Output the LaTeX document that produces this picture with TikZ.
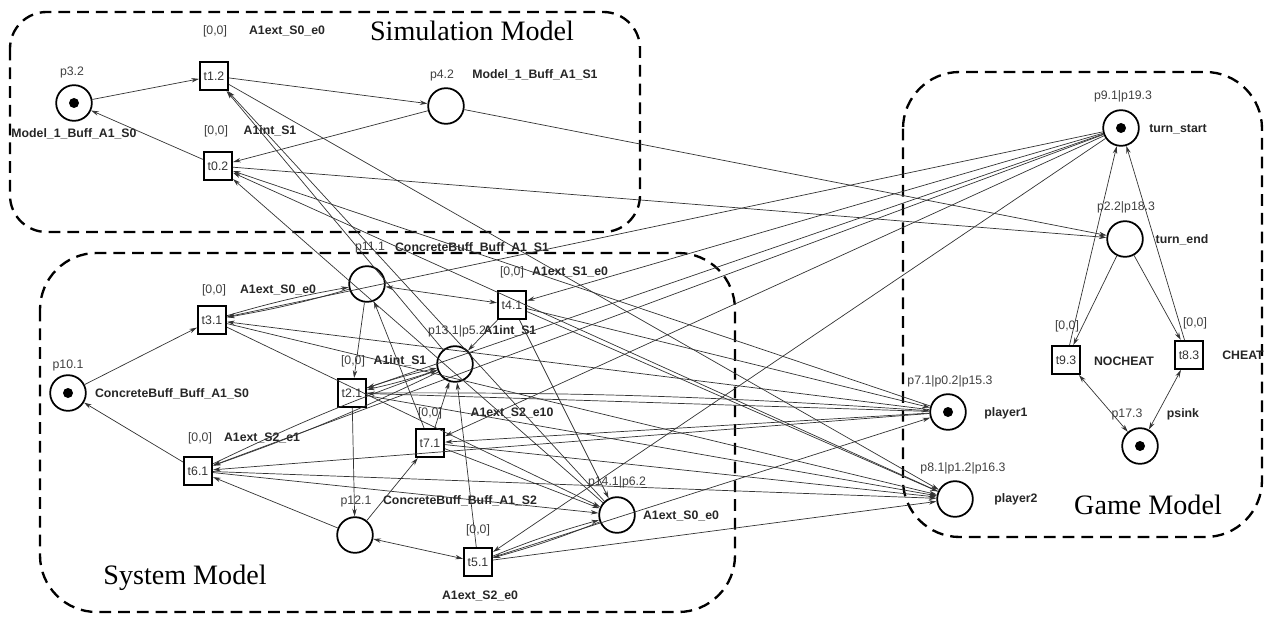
\documentclass[tikz,border=0pt]{standalone}
\usepackage{fontspec}
\setmainfont{Liberation Serif}
\setsansfont{Liberation Sans}
\usetikzlibrary{arrows.meta}

\begin{document}
\begin{tikzpicture}[x=0.03cm,y=-0.03cm,>={Stealth[length=6.5pt,width=3.8pt]},
  pl/.style={circle,draw,line width=1.5pt,minimum size=1.07cm,inner sep=0pt},
  tr/.style={rectangle,draw,fill=white,line width=1.5pt,minimum size=0.85cm,inner sep=0pt,font=\sffamily\fontsize{10.5}{12}\selectfont,text=black!80},
  tok/.style={circle,fill,inner sep=0pt,minimum size=0.3cm},
  lb/.style={font=\sffamily\fontsize{10.5}{12}\selectfont,text=black!75,inner sep=0pt},
  nm/.style={font=\sffamily\bfseries\fontsize{10.5}{12}\selectfont,text=black!85,inner sep=0pt},
  md/.style={font=\fontsize{24}{28}\selectfont,inner sep=0pt},
  box/.style={draw,line width=2pt,dash pattern=on 10pt off 6pt},
  arc/.style={->,black!80,line width=0.6pt},
  rd/.style={<->,black!80,line width=0.6pt}]
  \useasboundingbox (0,0) rectangle (1271,622);
  \draw[box,rounded corners=1.1cm] (10,12) rectangle (640,232);
  \draw[box,rounded corners=1.7cm] (40,253) rectangle (735,612);
  \draw[box,rounded corners=1.7cm] (903,72) rectangle (1262,537);
  \node[md] (sim) at (472,31) {Simulation Model};
  \node[md] (sys) at (185,578) {System Model};
  \node[md] (gam) at (1148,505) {Game Model};

  \node[pl] (p32) at (74,103) {};
  \node[tok] (p32k) at (p32) {};
  \node[tr] (t12) at (214,76) {t1.2};
  \node[pl] (p42) at (446,106) {};
  \node[tr] (t02) at (218,166) {t0.2};

  \node[pl] (p111) at (367,284) {};
  \node[tr] (t31) at (212,320) {t3.1};
  \node[tr] (t41) at (512,305) {t4.1};
  \node[pl] (p131) at (455,364) {};
  \node[tr] (t21) at (352,393) {t2.1};
  \node[pl] (p101) at (68,393) {};
  \node[tok] (p101k) at (p101) {};
  \node[tr] (t71) at (430,443) {t7.1};
  \node[tr] (t61) at (198,471) {t6.1};
  \node[pl] (p121) at (355,535) {};
  \node[tr] (t51) at (478,562) {t5.1};
  \node[pl] (p141) at (617,515) {};

  \node[pl] (tst) at (1121,128) {};
  \node[tok] (tstk) at (tst) {};
  \node[pl] (tnd) at (1125,239) {};
  \node[tr] (t93) at (1066,360) {t9.3};
  \node[tr] (t83) at (1189,355) {t8.3};
  \node[pl] (psk) at (1140,446) {};
  \node[tok] (pskk) at (psk) {};
  \node[pl] (pl1) at (948,412) {};
  \node[tok] (pl1k) at (pl1) {};
  \node[pl] (pl2) at (955,499) {};

  \node[lb] (p32i) at (72,72) {p3.2};
  \node[nm] (p32n) at (74,134) {Model\_1\_Buff\_A1\_S0};
  \node[lb] (t12w) at (215,31) {[0,0]};
  \node[nm] (t12n) at (287,31) {A1ext\_S0\_e0};
  \node[lb] (p42i) at (442,75) {p4.2};
  \node[nm] (p42n) at (535,75) {Model\_1\_Buff\_A1\_S1};
  \node[lb] (t02w) at (216,131) {[0,0]};
  \node[nm] (t02n) at (270,131) {A1int\_S1};

  \node[lb] (p111i) at (370,248) {p11.1};
  \node[nm] (p111n) at (472,248) {ConcreteBuff\_Buff\_A1\_S1};
  \node[lb] (t31w) at (214,290) {[0,0]};
  \node[nm] (t31n) at (278,290) {A1ext\_S0\_e0};
  \node[lb] (t41w) at (512,272) {[0,0]};
  \node[nm] (t41n) at (570,272) {A1ext\_S1\_e0};
  \node[lb] (p131i) at (457,331) {p13.1|p5.2};
  \node[nm] (p131n) at (510,331) {A1int\_S1};
  \node[lb] (t21w) at (353,361) {[0,0]};
  \node[nm] (t21n) at (400,361) {A1int\_S1};
  \node[lb] (p101i) at (68,365) {p10.1};
  \node[nm] (p101n) at (172,394) {ConcreteBuff\_Buff\_A1\_S0};
  \node[lb] (t71w) at (430,413) {[0,0]};
  \node[nm] (t71n) at (512,413) {A1ext\_S2\_e10};
  \node[lb] (t61w) at (200,438) {[0,0]};
  \node[nm] (t61n) at (262,438) {A1ext\_S2\_e1};
  \node[lb] (p121i) at (356,501) {p12.1};
  \node[nm] (p121n) at (460,501) {ConcreteBuff\_Buff\_A1\_S2};
  \node[lb] (t51w) at (478,530) {[0,0]};
  \node[nm] (t51n) at (480,596) {A1ext\_S2\_e0};
  \node[lb] (p141i) at (617,482) {p14.1|p6.2};
  \node[nm] (p141n) at (681,516) {A1ext\_S0\_e0};

  \node[lb] (tsti) at (1123,96) {p9.1|p19.3};
  \node[nm] (tstn) at (1178,129) {turn\_start};
  \node[lb] (tndi) at (1126,207) {p2.2|p18.3};
  \node[nm] (tndn) at (1182,240) {turn\_end};
  \node[lb] (t93w) at (1067,326) {[0,0]};
  \node[nm] (t93n) at (1124,361) {NOCHEAT};
  \node[lb] (t83w) at (1195,323) {[0,0]};
  \node[nm] (t83n) at (1243,355) {CHEAT};
  \node[lb] (pski) at (1127,414) {p17.3};
  \node[nm] (pskn) at (1183,414) {psink};
  \node[lb] (pl1i) at (950,381) {p7.1|p0.2|p15.3};
  \node[nm] (pl1n) at (1006,413) {player1};
  \node[lb] (pl2i) at (963,468) {p8.1|p1.2|p16.3};
  \node[nm] (pl2n) at (1016,499) {player2};

  \draw[arc] (p32) -- (t12);
  \draw[arc] (t12) -- (p42);
  \draw[arc] (p42) -- (t02);
  \draw[arc] (t02) -- (p32);
  \draw[arc] (t02) -- (tnd);
  \draw[arc] (p42) -- (tnd);
  \draw[arc] (p131) -- (t12);
  \draw[arc] (p141) -- (t12);
  \draw[arc] (t12) -- (pl2);
  \draw[arc] (p141) -- (t02);
  \draw[arc] (pl1) -- (t02);
  \draw[arc] (pl2) -- (t02);

  \draw[arc] (p101) -- (t31);
  \draw[arc] (t61) -- (p101);
  \draw[arc] (t31) to[bend left=3] (p111);
  \draw[arc] (p111) to[bend left=3] (t31);
  \draw[rd] (p111) -- (t41);
  \draw[arc] (p111) -- (t21);
  \draw[arc] (t71) -- (p111);
  \draw[arc] (t41) -- (p131);
  \draw[arc] (t41) -- (p141);
  \draw[arc] (p131) to[bend left=3] (t21);
  \draw[arc] (t21) to[bend left=3] (p131);
  \draw[arc] (p131) to[bend left=3] (t61);
  \draw[arc] (t61) to[bend left=3] (p131);
  \draw[arc] (t71) -- (p131);
  \draw[arc] (t51) -- (p131);
  \draw[arc] (t21) -- (p121);
  \draw[arc] (p121) -- (t61);
  \draw[arc] (p121) -- (t71);
  \draw[rd] (p121) -- (t51);
  \draw[arc] (t31) -- (p141);
  \draw[arc] (t71) -- (p141);
  \draw[arc] (t61) -- (p141);
  \draw[arc] (p141) to[bend left=3] (t51);
  \draw[arc] (t51) to[bend left=3] (p141);

  \draw[arc] (tnd) -- (t93);
  \draw[arc] (tnd) -- (t83);
  \draw[arc] (t93) -- (tst);
  \draw[arc] (t83) -- (tst);
  \draw[rd] (t93) -- (psk);
  \draw[rd] (t83) -- (psk);

  \draw[arc] (tst) -- (t31);
  \draw[arc] (tst) -- (t41);
  \draw[arc] (tst) -- (t21);
  \draw[arc] (tst) -- (t71);
  \draw[arc] (tst) -- (t61);
  \draw[arc] (tst) -- (t51);
  \draw[arc] (t31) -- (pl2);
  \draw[arc] (t41) -- (pl2);
  \draw[arc] (t21) -- (pl2);
  \draw[arc] (t71) -- (pl2);
  \draw[arc] (t61) -- (pl2);
  \draw[arc] (t51) -- (pl2);
  \draw[arc] (pl1) -- (t31);
  \draw[arc] (pl1) -- (t21);
  \draw[arc] (pl1) -- (t71);
  \draw[arc] (pl1) -- (t61);
  \draw[arc] (t41) -- (pl1);
  \draw[arc] (t21) to[bend left=2] (pl1);
  \draw[arc] (t51) -- (pl1);
\end{tikzpicture}
\end{document}
